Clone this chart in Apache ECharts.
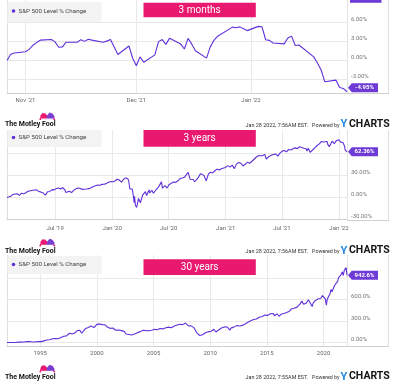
<!DOCTYPE html>
<html><head><meta charset="utf-8">
<script src="https://cdn.jsdelivr.net/npm/echarts@6/dist/echarts.min.js"></script>
<style>html,body{margin:0;padding:0;background:#fff}#c{width:400px;height:386px}</style>
</head><body><div id="c"></div>
<script>
// ---------- DATA ----------
const seriesName = 'S&P 500 Level % Change';
const panelTitles = ['3 months', '3 years', '30 years'];
const stamps = ['Jan 28 2022, 7:56AM EST.', 'Jan 28 2022, 7:56AM EST.', 'Jan 28 2022, 7:55AM EST.'];

// Panel 1: 3 months (daily)
const dates1 = ['2021-10-27','2021-10-28','2021-10-29','2021-11-01','2021-11-02','2021-11-03','2021-11-04','2021-11-05','2021-11-08','2021-11-09','2021-11-10','2021-11-11','2021-11-12','2021-11-15','2021-11-16','2021-11-17','2021-11-18','2021-11-19','2021-11-22','2021-11-23','2021-11-24','2021-11-26','2021-11-29','2021-11-30','2021-12-01','2021-12-02','2021-12-03','2021-12-06','2021-12-07','2021-12-08','2021-12-09','2021-12-10','2021-12-13','2021-12-14','2021-12-15','2021-12-16','2021-12-17','2021-12-20','2021-12-21','2021-12-22','2021-12-23','2021-12-27','2021-12-28','2021-12-29','2021-12-30','2021-12-31','2022-01-03','2022-01-04','2022-01-05','2022-01-06','2022-01-07','2022-01-10','2022-01-11','2022-01-12','2022-01-13','2022-01-14','2022-01-18','2022-01-19','2022-01-20','2022-01-21','2022-01-24','2022-01-25','2022-01-26','2022-01-27'];
const values1 = [0,0.98,1.18,1.36,1.74,2.39,2.82,3.20,3.30,2.93,2.09,2.14,2.88,2.88,3.28,3.01,3.36,3.21,2.88,3.05,3.29,0.94,2.28,0.34,-0.85,0.56,-0.29,0.88,2.97,3.29,2.54,3.52,2.58,1.81,3.48,2.57,1.52,0.36,2.14,3.18,3.83,5.26,5.16,5.30,4.99,4.71,5.38,5.31,3.27,3.17,2.75,2.61,3.55,3.84,2.36,2.44,0.56,-0.42,-1.52,-3.38,-3.11,-4.29,-4.43,-4.95];

// Panel 2: 3 years
const dates2 = ['2019-01-27','2019-02-01','2019-02-08','2019-02-15','2019-02-22','2019-03-01','2019-03-08','2019-03-15','2019-03-22','2019-03-29','2019-04-05','2019-04-12','2019-04-18','2019-04-26','2019-05-03','2019-05-10','2019-05-13','2019-05-17','2019-05-24','2019-05-31','2019-06-07','2019-06-14','2019-06-21','2019-06-28','2019-07-05','2019-07-12','2019-07-19','2019-07-26','2019-08-02','2019-08-05','2019-08-09','2019-08-16','2019-08-23','2019-08-30','2019-09-06','2019-09-13','2019-09-20','2019-09-27','2019-10-02','2019-10-11','2019-10-18','2019-10-25','2019-11-01','2019-11-08','2019-11-15','2019-11-22','2019-11-29','2019-12-03','2019-12-06','2019-12-13','2019-12-20','2019-12-27',
'2020-01-03','2020-01-10','2020-01-17','2020-01-24','2020-01-31','2020-02-07','2020-02-14','2020-02-19','2020-02-21','2020-02-24','2020-02-25','2020-02-27','2020-02-28','2020-03-03','2020-03-06','2020-03-09','2020-03-11','2020-03-12','2020-03-13','2020-03-16','2020-03-18','2020-03-20','2020-03-23','2020-03-26','2020-03-31','2020-04-01','2020-04-08','2020-04-17','2020-04-21','2020-04-29','2020-05-01','2020-05-08','2020-05-13','2020-05-22','2020-05-29','2020-06-08','2020-06-11','2020-06-19','2020-06-26','2020-07-02','2020-07-10','2020-07-17','2020-07-24','2020-07-31','2020-08-07','2020-08-14','2020-08-21','2020-08-28','2020-09-02','2020-09-08','2020-09-11','2020-09-18','2020-09-23','2020-10-02','2020-10-12','2020-10-16','2020-10-23','2020-10-30','2020-11-06','2020-11-13','2020-11-20','2020-11-27','2020-12-04','2020-12-11','2020-12-18','2020-12-24','2020-12-31',
'2021-01-08','2021-01-15','2021-01-22','2021-01-29','2021-02-05','2021-02-12','2021-02-19','2021-02-26','2021-03-04','2021-03-12','2021-03-19','2021-03-26','2021-04-01','2021-04-09','2021-04-16','2021-04-23','2021-04-30','2021-05-07','2021-05-12','2021-05-21','2021-05-28','2021-06-04','2021-06-11','2021-06-18','2021-06-25','2021-07-02','2021-07-09','2021-07-16','2021-07-19','2021-07-23','2021-07-30','2021-08-06','2021-08-13','2021-08-20','2021-08-27','2021-09-02','2021-09-10','2021-09-17','2021-09-20','2021-09-24','2021-09-30','2021-10-04','2021-10-08','2021-10-15','2021-10-22','2021-10-29','2021-11-05','2021-11-12','2021-11-18','2021-11-24','2021-11-26','2021-11-30','2021-12-01','2021-12-03','2021-12-10','2021-12-17','2021-12-20','2021-12-23','2021-12-29','2021-12-31',
'2022-01-03','2022-01-04','2022-01-07','2022-01-12','2022-01-14','2022-01-19','2022-01-21','2022-01-24','2022-01-25','2022-01-26','2022-01-27'];
const values2 = [0,1.6,1.6,4.2,4.8,5.2,2.9,5.9,5.1,6.4,8.6,9.1,9.0,10.3,10.5,8.1,5.5,7.3,6.1,3.3,7.8,8.3,10.7,10.4,12.2,13.1,11.7,13.6,10.0,6.8,9.5,8.4,6.8,9.8,11.8,12.9,12.3,11.1,8.4,11.5,12.1,13.4,15.1,16.1,17.1,16.7,17.9,16.1,18.1,18.9,20.9,21.6,
21.4,22.5,24.9,23.7,21.0,24.9,26.8,27.1,25.3,21.1,17.4,11.8,10.9,12.7,11.5,3.1,2.9,-6.9,1.7,-10.5,-10.0,-13.5,-16.0,-1.3,-3.0,-7.3,3.2,7.9,2.7,10.3,6.2,9.9,5.8,10.9,14.2,21.3,12.7,16.2,12.9,17.5,19.5,21.0,20.7,22.8,25.8,26.6,27.5,31.6,34.4,25.0,25.4,24.6,21.5,25.7,32.6,30.7,30.0,22.7,31.7,34.5,33.5,36.5,38.8,37.5,39.2,39.0,41.0,
43.5,41.4,44.2,39.4,45.9,47.7,46.6,43.0,41.4,48.0,46.8,49.1,50.9,54.9,57.1,56.9,56.9,58.8,52.5,56.0,57.8,58.7,59.4,56.4,60.6,63.3,64.0,62.4,59.8,65.6,64.9,66.5,67.7,66.7,69.2,70.3,67.3,66.4,63.5,67.2,61.6,61.4,64.8,67.8,70.6,72.8,76.3,75.7,76.5,76.4,72.4,71.4,69.4,70.3,76.8,73.4,71.4,77.3,79.9,78.9,
80.0,79.9,75.5,77.4,75.0,70.1,65.0,65.5,63.5,63.2,62.36];

// Panel 3: 30 years (monthly, first point 1992-01-27, last 2022-01-27)
const values3 = [
0,-1,-3,0,0,-2,2,0,1,1,4,5,
6,7,9,6,8,9,8,12,11,13,11,12,
16,13,7,9,10,7,10,15,11,14,9,11,
13,17,21,24,29,31,35,35,41,40,46,48,
53,54,56,58,61,62,54,57,66,70,82,78,
89,91,82,93,104,113,130,117,128,120,130,134,
136,153,165,168,163,173,170,131,145,165,180,196,
208,198,210,222,214,231,220,218,209,228,235,254,
236,229,261,250,242,251,245,266,246,244,217,218,
229,199,180,201,203,195,192,173,151,155,175,177,
172,167,176,159,157,139,120,121,96,113,126,112,
106,103,104,121,132,135,139,143,140,153,155,168,
173,176,171,167,170,175,165,166,169,172,183,192,
185,190,184,179,187,187,197,194,196,191,201,201,
208,209,212,216,206,206,208,214,222,232,238,242,
247,239,242,257,269,262,251,255,268,273,257,254,
232,221,219,234,237,208,205,209,181,133,116,118,
99,77,92,110,121,122,138,146,155,150,164,169,
159,166,182,186,163,148,165,153,175,185,184,203,
210,220,219,229,224,218,211,194,173,202,200,203,
216,229,239,237,216,228,232,239,247,240,241,244,
261,265,278,285,293,287,306,293,305,323,335,345,
330,348,351,354,364,372,365,383,375,386,398,396,
381,407,398,403,408,397,407,375,363,401,401,393,
368,366,396,398,405,406,424,423,422,412,430,439,
449,470,469,475,481,484,495,496,507,521,538,544,
580,554,536,538,552,555,579,599,602,553,565,504,
552,571,583,610,563,609,618,605,617,632,657,679,
677,612,523,602,634,647,688,743,710,688,773,805,
795,818,857,908,913,936,959,990,938,1010,1000,1048,
942.6];
const startDate3 = '1992-01-27';
const endDate3 = '2022-01-27';

// Tick labels
const xTicks1 = ['2021-11-01','2021-12-01','2022-01-01'];
const xLabels1 = ["Nov '21","Dec '21","Jan '22"];
const xTicks2 = ['2019-07-01','2020-01-01','2020-07-01','2021-01-01','2021-07-01','2022-01-01'];
const xLabels2 = ["Jul '19","Jan '20","Jul '20","Jan '21","Jul '21","Jan '22"];
const xTicks3 = ['1995-01-01','2000-01-01','2005-01-01','2010-01-01','2015-01-01','2020-01-01'];
const xLabels3 = ['1995','2000','2005','2010','2015','2020'];
const yGrid1 = [-3,0,3,6];   const yLabels1 = [-3,0,3,6];
const yGrid2 = [-30,0,30,60]; const yLabels2 = [-30,0,30];
const yGrid3 = [0,300,600,900]; const yLabels3 = [0,300,600];
const endLabels = ['-4.95%','62.36%','942.6%'];

// ---------- BUILD ----------
function pad(n){return (n<10?'0':'')+n;}
const dates3 = [startDate3];
for (let y = 1992; y <= 2021; y++) {
  for (let m = (y === 1992 ? 2 : 1); m <= 12; m++) {
    const last = new Date(y, m, 0).getDate();
    dates3.push(y + '-' + pad(m) + '-' + pad(last));
  }
}
dates3.push(endDate3);

function ts(s) { const a = s.split('-').map(Number); return Date.UTC(a[0], a[1] - 1, a[2]); }
const zip = (d, v) => d.map((x, i) => [ts(x), v[i]]);
const data1 = zip(dates1, values1), data2 = zip(dates2, values2), data3 = zip(dates3, values3);

const PURPLE = '#6030da', TAG = '#6f3bd6', PINK = '#e8196f', GRID = '#e9e9e9', AXIS = '#d0d0d0';
const panels = [
  {top: 0, height: 93, xmin: '2021-10-27', xmax: '2022-01-27', ymin: -5.15, ymax: 9.55, xT: xTicks1, xL: xLabels1, yG: yGrid1, yL: yLabels1, data: data1, fmt: v => v.toFixed(2) + '%', xm: 4, tagDy: -4},
  {top: 130.5, height: 89, xmin: '2019-01-27', xmax: '2022-01-27', ymin: -30, ymax: 91.4, xT: xTicks2, xL: xLabels2, yG: yGrid2, yL: yLabels2, data: data2, fmt: v => v.toFixed(2) + '%', xm: 5.5, tagDy: 0},
  {top: 255, height: 91, xmin: startDate3, xmax: endDate3, ymin: -48, ymax: 1225, xT: xTicks3, xL: xLabels3, yG: yGrid3, yL: yLabels3, data: data3, fmt: v => v === 0 ? '0.00%' : v.toFixed(1) + '%', xm: 4, tagDy: 0}
];
const LEFT = 7, RIGHTX = 347, BOXR = 388;

const grid = [], xAxis = [], yAxis = [], series = [];
panels.forEach((p, i) => {
  grid.push({left: LEFT, right: 400 - RIGHTX, top: p.top, height: p.height, containLabel: false, outerBoundsMode: 'none'});
  const tickNums = p.xT.map(ts);
  xAxis.push({
    type: 'value', gridIndex: i, min: ts(p.xmin), max: ts(p.xmax), scale: true,
    axisLine: {show: true, onZero: false, lineStyle: {color: AXIS, width: 1}},
    axisTick: {show: false, customValues: tickNums},
    splitLine: {show: true, lineStyle: {color: GRID, width: 1}},
    axisLabel: {customValues: tickNums, color: '#666', fontSize: 6, fontFamily: 'Roboto', margin: p.xm,
      formatter: (v) => { const k = tickNums.indexOf(v); return k >= 0 ? p.xL[k] : ''; }}
  });
  yAxis.push({
    type: 'value', gridIndex: i, position: 'right', min: p.ymin, max: p.ymax,
    axisLine: {show: true, lineStyle: {color: '#e2e2e2', width: 1}},
    axisTick: {show: false, customValues: p.yG},
    splitLine: {show: true, lineStyle: {color: GRID, width: 1}},
    axisLabel: {customValues: p.yL, color: '#777', fontSize: 6, fontFamily: 'Roboto', margin: 4,
      align: 'left', verticalAlign: 'bottom', formatter: p.fmt}
  });
  const last = p.data[p.data.length - 1];
  series.push({
    type: 'line', name: seriesName, xAxisIndex: i, yAxisIndex: i, data: p.data,
    showSymbol: false, symbol: 'none', clip: false,
    lineStyle: {color: PURPLE, width: 1.1}, itemStyle: {color: PURPLE},
    markPoint: {
      silent: true, animation: false,
      symbol: 'path://M0,5L4,0L32,0L32,10L4,10Z', symbolSize: [30, 9], symbolKeepAspect: false,
      symbolOffset: [16, p.tagDy],
      itemStyle: {color: TAG},
      label: {show: true, position: 'inside', offset: [1.5, 0], color: '#fff', fontSize: 6, fontWeight: 'bold', fontFamily: 'Roboto', formatter: endLabels[i]},
      data: [{coord: last}]
    }
  });
});

// decorations
const graphic = [];
const legendBoxes = [[2, 20, 11], [130, 17, 137.5], [256, 18, 264.5]];
const titleBoxes = [[2.7, 14.6], [130, 16.7], [259.3, 15.7]];
const footY = [124.5, 250.8, 376.8];
panels.forEach((p, i) => {
  const bottom = p.top + p.height;
  graphic.push({type: 'line', silent: true, shape: {x1: LEFT + 0.5, y1: p.top, x2: LEFT + 0.5, y2: bottom}, style: {stroke: '#dedede', lineWidth: 1}});
  graphic.push({type: 'line', silent: true, shape: {x1: BOXR + 0.5, y1: p.top, x2: BOXR + 0.5, y2: bottom}, style: {stroke: '#dedede', lineWidth: 1}});
  graphic.push({type: 'line', silent: true, shape: {x1: RIGHTX, y1: Math.round(bottom) + 0.5, x2: BOXR + 1, y2: Math.round(bottom) + 0.5}, style: {stroke: AXIS, lineWidth: 1}});
  const lb = legendBoxes[i];
  graphic.push({type: 'rect', silent: true, shape: {x: 7.5, y: lb[0], width: 94, height: lb[1]}, style: {fill: '#f3f3f3'}, z: 50});
  graphic.push({type: 'circle', silent: true, shape: {cx: 13.5, cy: lb[2], r: 1.8}, style: {fill: PURPLE}, z: 51});
  graphic.push({type: 'text', silent: true, z: 51, style: {text: seriesName, x: 18.5, y: lb[2], fill: '#444', font: '6.2px Roboto', verticalAlign: 'middle'}});
  const tb = titleBoxes[i];
  graphic.push({type: 'rect', silent: true, shape: {x: 143.5, y: tb[0], width: 112.3, height: tb[1]}, style: {fill: PINK}, z: 50});
  graphic.push({type: 'text', silent: true, z: 51, style: {text: panelTitles[i], x: 199.6, y: tb[0] + tb[1] / 2 + 0.5, fill: '#fff', font: '10px Roboto', align: 'center', verticalAlign: 'middle'}});
  const fy = footY[i];
  graphic.push({type: 'text', silent: true, style: {text: 'The Motley Fool', x: 5, y: fy, fill: '#111', font: 'bold 7px Roboto', verticalAlign: 'middle'}});
  // jester hat logo
  graphic.push({type: 'polygon', silent: true, shape: {points: [[40, fy - 5], [40.5, fy - 9], [42.5, fy - 11.5], [45.5, fy - 11], [47.5, fy - 8.5], [47, fy - 5]]}, style: {fill: PINK}});
  graphic.push({type: 'polygon', silent: true, shape: {points: [[46.5, fy - 5], [47, fy - 9], [49.5, fy - 12], [52.5, fy - 11], [54.5, fy - 8], [54, fy - 5]]}, style: {fill: '#7a3fd0'}});
  graphic.push({type: 'rect', silent: true, shape: {x: 41, y: fy - 6, width: 12.5, height: 1.3}, style: {fill: '#fff'}});
  graphic.push({type: 'circle', silent: true, shape: {cx: 40.3, cy: fy - 5.3, r: 0.9}, style: {fill: PINK}});
  graphic.push({type: 'circle', silent: true, shape: {cx: 54.3, cy: fy - 5.3, r: 0.9}, style: {fill: PINK}});
  graphic.push({type: 'text', silent: true, style: {text: stamps[i], x: 308, y: fy + 1, fill: '#333', font: '5.4px Roboto', align: 'right', verticalAlign: 'middle'}});
  graphic.push({type: 'text', silent: true, style: {text: 'Powered by', x: 339.5, y: fy + 1, fill: '#333', font: '5.3px Roboto', align: 'right', verticalAlign: 'middle'}});
  graphic.push({type: 'text', silent: true, style: {text: 'Y', x: 340.5, y: fy, fill: '#1e88e5', font: 'bold 11px Roboto', verticalAlign: 'middle'}});
  graphic.push({type: 'text', silent: true, style: {text: 'CHARTS', x: 349, y: fy, fill: '#151515', font: 'bold 10.5px Roboto', verticalAlign: 'middle'}});
});
graphic.push({type: 'rect', silent: true, shape: {x: 350, y: 0, width: 31.5, height: 2.8}, style: {fill: TAG}});

const chart = echarts.init(document.getElementById('c'), null, {renderer: 'canvas'});
chart.setOption({
  animation: false, backgroundColor: '#fff',
  grid, xAxis, yAxis, series, graphic,
  tooltip: {show: false}
});
</script></body></html>
